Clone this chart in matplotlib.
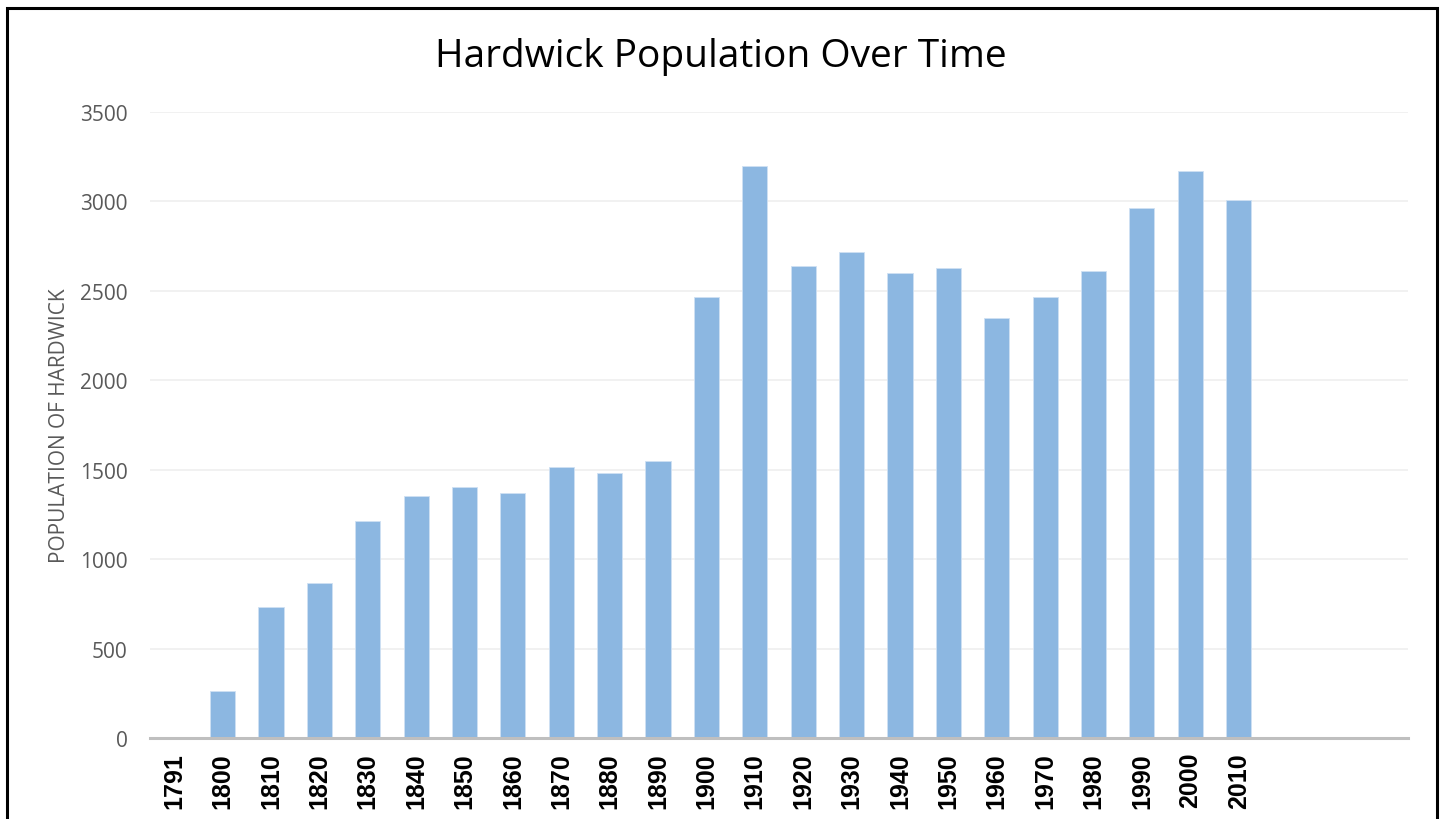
import matplotlib
matplotlib.use("Agg")
import matplotlib.pyplot as plt
from matplotlib.patches import Rectangle
import numpy as np

# census years and population of Hardwick
years = ["1791", "1800", "1810", "1820", "1830", "1840", "1850", "1860",
         "1870", "1880", "1890", "1900", "1910", "1920", "1930", "1940",
         "1950", "1960", "1970", "1980", "1990", "2000", "2010"]
population = [0, 260, 733, 867, 1214, 1353, 1402, 1368,
              1516, 1482, 1546, 2465, 3199, 2638, 2716, 2601,
              2629, 2347, 2465, 2610, 2962, 3171, 3007]
n_slots = 26  # the axis keeps three empty slots after 2010

yticks = [0, 500, 1000, 1500, 2000, 2500, 3000, 3500]

W, H = 1443, 820
fig = plt.figure(figsize=(W / 100, H / 100), dpi=100)
ax = fig.add_axes([150 / W, (H - 739) / H, 1258 / W, 626 / H])

x = np.arange(len(years))
ax.bar(x, population, width=0.52, color="#8cb7e1", edgecolor="#cfe1f3",
       linewidth=0.6, zorder=3)

ax.set_xlim(-0.5, n_slots - 0.5)
ax.set_ylim(0, 3500)
ax.set_yticks(yticks)
ax.set_yticklabels([str(v) for v in yticks], fontfamily="Open Sans",
                   fontsize=15, color="#595959")
ax.set_xticks(x)
ax.set_xticklabels(years, rotation=90, fontfamily="Liberation Sans",
                   fontweight="bold", fontsize=18, color="black",
                   va="top", ha="center")
ax.tick_params(axis="both", length=0)
ax.tick_params(axis="y", pad=16)
ax.tick_params(axis="x", pad=10)

ax.grid(axis="y", color="#efefef", linewidth=1.2, zorder=0)
for s in ["top", "right", "left"]:
    ax.spines[s].set_visible(False)
ax.spines["bottom"].set_color("#bfbfbf")
ax.spines["bottom"].set_linewidth(2.2)
ax.spines["bottom"].set_zorder(4)

ax.set_ylabel("POPULATION OF HARDWICK", fontfamily="Open Sans", fontsize=15,
              color="#595959")
ax.yaxis.set_label_coords(-(150 - 70) / 1258, 0.5)

fig.text(721 / W, 1 - 57 / H, "Hardwick Population Over Time",
         fontfamily="Open Sans", fontweight="medium", fontsize=28,
         color="black", ha="center", va="center")

# black frame around the chart
fig.patches.append(Rectangle((7 / W, -0.05), 1429.5 / W, 1.05 - 8.7 / H,
                             transform=fig.transFigure, fill=False,
                             edgecolor="black", linewidth=2.2, clip_on=False))

fig.savefig("out.png", dpi=100)
